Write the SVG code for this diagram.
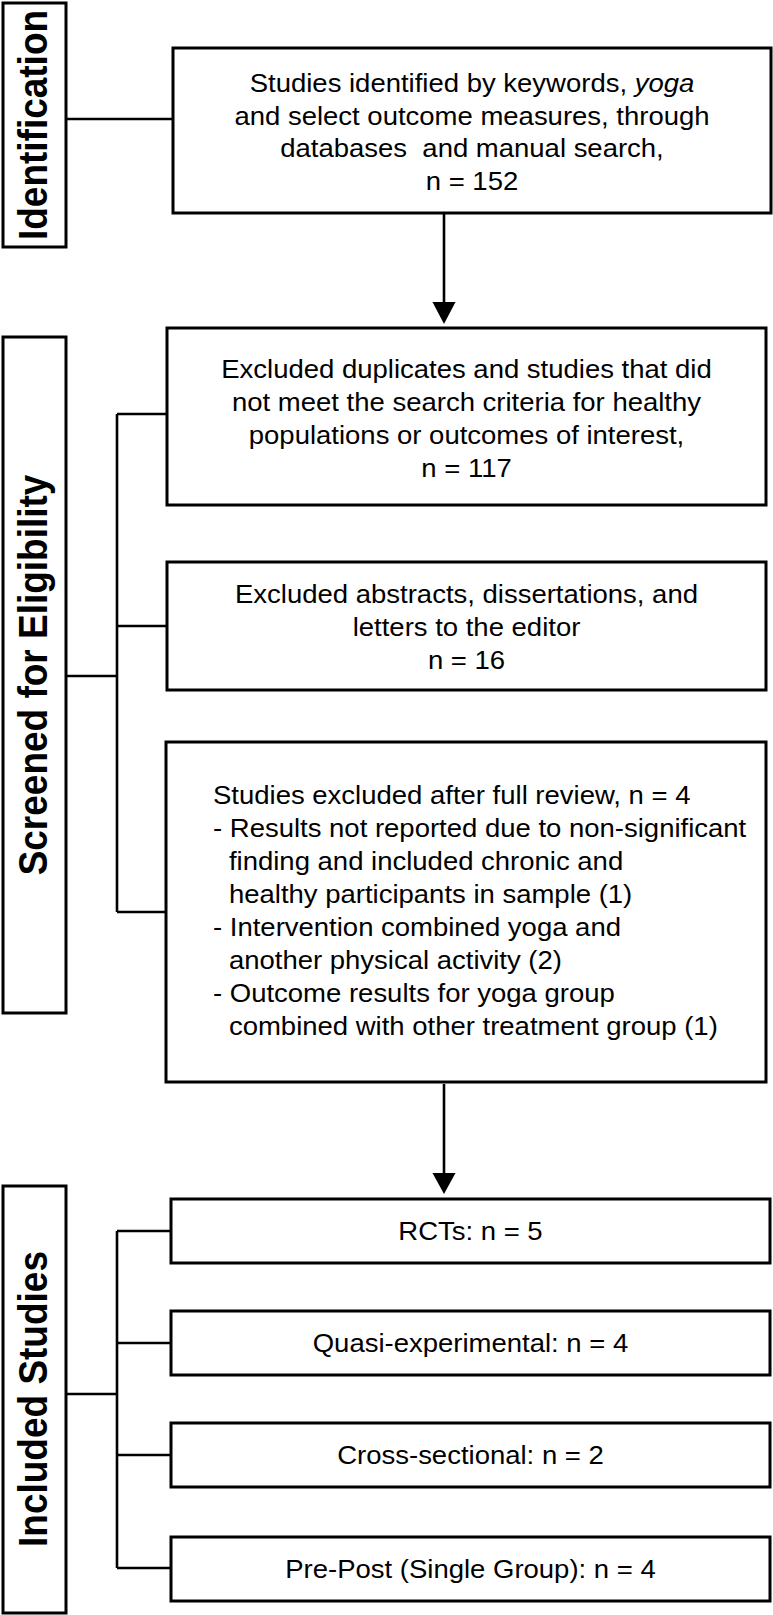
<svg xmlns="http://www.w3.org/2000/svg" width="773" height="1615" viewBox="0 0 773 1615">
<style>
.box{fill:#fff;stroke:#000;stroke-width:3}
.t{font-family:"Liberation Sans",Arial,Helvetica,sans-serif;font-size:25px;fill:#000}
.c{text-anchor:middle}
.lbl{font-family:"Liberation Sans",Arial,Helvetica,sans-serif;font-size:37px;font-weight:bold;fill:#000;text-anchor:middle}
.ln{fill:none;stroke:#000;stroke-width:2.6}
</style>
<rect width="773" height="1615" fill="#fff"/>
<g id="connectors">
<line class="ln" x1="66" y1="119" x2="173" y2="119"/>
<path class="ln" d="M66,676 H117 M117,414 V912 M117,414 H167 M117,626 H167 M117,912 H166"/>
<path class="ln" d="M66,1394 H117 M117,1231 V1568 M117,1231 H171 M117,1343 H171 M117,1455 H171 M117,1568 H171"/>
<line class="ln" x1="444" y1="214" x2="444" y2="303"/>
<polygon points="432.5,302 455.5,302 444,324" fill="#000"/>
<line class="ln" x1="444" y1="1084" x2="444" y2="1174"/>
<polygon points="432.5,1173 455.5,1173 444,1194" fill="#000"/>
</g>
<g id="label-identification">
<rect class="box" x="3" y="3" width="63" height="244"/>
<text class="lbl" transform="translate(47,125) rotate(-90) scale(1,1.1)">Identification</text>
</g>
<g id="label-screened">
<rect class="box" x="3" y="337" width="63" height="676"/>
<text class="lbl" transform="translate(47,675) rotate(-90) scale(1,1.1)">Screened for Eligibility</text>
</g>
<g id="label-included">
<rect class="box" x="3" y="1186" width="63" height="427"/>
<text class="lbl" transform="translate(47,1399) rotate(-90) scale(1,1.1)">Included Studies</text>
</g>
<g id="node-identified">
<rect class="box" x="173" y="48" width="598" height="165"/>
<g transform="translate(472,0) scale(1.1,1)">
<text class="t c" x="0" y="92">Studies identified by keywords, <tspan font-style="italic">yoga</tspan></text>
<text class="t c" x="0" y="125">and select outcome measures, through</text>
<text class="t c" x="0" y="157" style="white-space:pre">databases  and manual search,</text>
<text class="t c" x="0" y="190">n = 152</text>
</g>
</g>
<g id="node-excluded-duplicates">
<rect class="box" x="167" y="328" width="599" height="177"/>
<g transform="translate(466.5,0) scale(1.1,1)">
<text class="t c" x="0" y="378">Excluded duplicates and studies that did</text>
<text class="t c" x="0" y="411">not meet the search criteria for healthy</text>
<text class="t c" x="0" y="444">populations or outcomes of interest,</text>
<text class="t c" x="0" y="477">n = 117</text>
</g>
</g>
<g id="node-excluded-abstracts">
<rect class="box" x="167" y="562" width="599" height="128"/>
<g transform="translate(466.5,0) scale(1.1,1)">
<text class="t c" x="0" y="603">Excluded abstracts, dissertations, and</text>
<text class="t c" x="0" y="636">letters to the editor</text>
<text class="t c" x="0" y="669">n = 16</text>
</g>
</g>
<g id="node-excluded-full-review">
<rect class="box" x="166" y="742" width="600" height="340"/>
<g transform="translate(213,0) scale(1.1,1)">
<text class="t" x="0" y="804">Studies excluded after full review, n = 4</text>
<text class="t" x="0" y="837">- Results not reported due to non-significant</text>
<text class="t" x="14.5" y="870">finding and included chronic and</text>
<text class="t" x="14.5" y="903">healthy participants in sample (1)</text>
<text class="t" x="0" y="936">- Intervention combined yoga and</text>
<text class="t" x="14.5" y="969">another physical activity (2)</text>
<text class="t" x="0" y="1002">- Outcome results for yoga group</text>
<text class="t" x="14.5" y="1035">combined with other treatment group (1)</text>
</g>
</g>
<g id="node-rcts">
<rect class="box" x="171" y="1199" width="599" height="64"/>
<text class="t c" x="470.5" y="1240" transform="translate(470.5,0) scale(1.1,1) translate(-470.5,0)">RCTs: n = 5</text>
</g>
<g id="node-quasi">
<rect class="box" x="171" y="1311" width="599" height="64"/>
<text class="t c" x="470.5" y="1352" transform="translate(470.5,0) scale(1.1,1) translate(-470.5,0)">Quasi-experimental: n = 4</text>
</g>
<g id="node-cross">
<rect class="box" x="171" y="1423" width="599" height="64"/>
<text class="t c" x="470.5" y="1464" transform="translate(470.5,0) scale(1.1,1) translate(-470.5,0)">Cross-sectional: n = 2</text>
</g>
<g id="node-prepost">
<rect class="box" x="171" y="1537" width="599" height="64"/>
<text class="t c" x="470.5" y="1578" transform="translate(470.5,0) scale(1.1,1) translate(-470.5,0)">Pre-Post (Single Group): n = 4</text>
</g>
</svg>
